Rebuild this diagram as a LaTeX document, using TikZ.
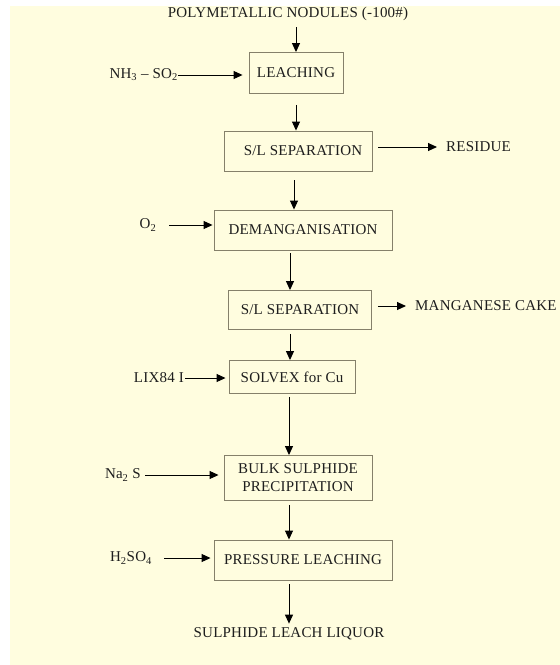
\documentclass[tikz,border=0pt]{standalone}
\usepackage{fontspec}
\setmainfont{Liberation Serif}[LetterSpace=1.5]
\usepackage{tikz}
\usetikzlibrary{arrows.meta,positioning,calc}
\definecolor{paper}{HTML}{FFFDDF}
\definecolor{boxline}{HTML}{85806A}
\definecolor{ink}{HTML}{1E1E1E}
\tikzset{
  process/.style={draw=boxline,line width=0.9pt,fill=paper,
    minimum height=40pt,align=center,inner sep=0pt,text=ink,
    font=\fontsize{15}{18}\selectfont},
  stream/.style={inner sep=0pt,text=ink,font=\fontsize{15}{18}\selectfont},
  flow/.style={-{Triangle[length=9pt,width=8pt]},line width=1pt,black}
}
\begin{document}
\begin{tikzpicture}[x=1pt,y=-1pt]
  \useasboundingbox (0,0) rectangle (560,665);
  \fill[paper] (10,6) rectangle (560,665);
  \node[stream] (nodules) at (288,14) {POLYMETALLIC NODULES (-100\#)};
  \node[process,minimum width=94pt,minimum height=41pt] (leach) at (296,73) {LEACHING};
  \node[process,minimum width=148pt] (slsep1) at (298,151) {\hspace*{10pt}S/L SEPARATION};
  \node[process,minimum width=178pt] (deman) at (303,230) {DEMANGANISATION};
  \node[process,minimum width=143pt,minimum height=39pt] (slsep2) at (300,310) {S/L SEPARATION};
  \node[process,minimum width=126pt,minimum height=33pt] (solvex) at (292,377) {SOLVEX for Cu};
  \node[process,minimum width=148pt,minimum height=45pt] (bulk) at (298,478) {BULK SULPHIDE\\PRECIPITATION};
  \node[process,minimum width=178pt] (press) at (303,560) {PRESSURE LEACHING};
  \node[stream] (liquor) at (289,634) {SULPHIDE LEACH LIQUOR};
  \node[stream,anchor=east] (ammonia) at (178,75) {NH\textsubscript{3} -- SO\textsubscript{2}};
  \node[stream] (oxygen) at (148,225) {O\textsubscript{2}};
  \node[stream,anchor=east] (lix) at (184,378) {LIX84 I};
  \node[stream,anchor=east] (sulphide) at (141,475) {Na\textsubscript{2} S};
  \node[stream] (acid) at (131,558) {H\textsubscript{2}SO\textsubscript{4}};
  \node[stream,anchor=west] (residue) at (446,147) {RESIDUE};
  \node[stream,anchor=west] (mncake) at (415,306) {MANGANESE CAKE};
  \draw[flow,shorten <=6pt] (nodules.south -| leach.north) -- (leach.north);
  \draw[flow,shorten <=11pt] (leach.south) -- (leach.south |- slsep1.north);
  \draw[flow,shorten <=9pt] ($(slsep1.south)+(-4,0)$) -- ($(slsep1.south |- deman.north)+(-4,0)$);
  \draw[flow,shorten <=3pt] ($(deman.south)+(-13,0)$) -- ($(deman.south |- slsep2.north)+(-13,0)$);
  \draw[flow,shorten <=4pt] ($(slsep2.south)+(-10,0)$) -- ($(slsep2.south |- solvex.north)+(-10,0)$);
  \draw[flow,shorten <=3pt] ($(solvex.south)+(-3,0)$) -- ($(solvex.south |- bulk.north)+(-3,0)$);
  \draw[flow,shorten <=4pt] ($(bulk.south)+(-9,0)$) -- ($(bulk.south |- press.north)+(-9,0)$);
  \draw[flow,shorten <=4pt,shorten >=4pt] ($(press.south)+(-14,0)$) -- ($(press.south |- liquor.north)+(-14,0)$);
  \draw[flow,shorten >=6pt] (ammonia.east) -- (ammonia.east -| leach.west);
  \draw[flow,shorten <=13pt,shorten >=1pt] (oxygen.east) -- (oxygen.east -| deman.west);
  \draw[flow,shorten <=1pt,shorten >=3pt] (lix.east) -- (lix.east -| solvex.west);
  \draw[flow,shorten <=4pt,shorten >=5pt] (sulphide.east) -- (sulphide.east -| bulk.west);
  \draw[flow,shorten <=12pt,shorten >=3pt] (acid.east) -- (acid.east -| press.west);
  \draw[flow,shorten <=6pt,shorten >=9pt] (slsep1.east |- residue.west) -- (residue.west);
  \draw[flow,shorten <=6pt,shorten >=9pt] (slsep2.east |- mncake.west) -- (mncake.west);
\end{tikzpicture}
\end{document}
